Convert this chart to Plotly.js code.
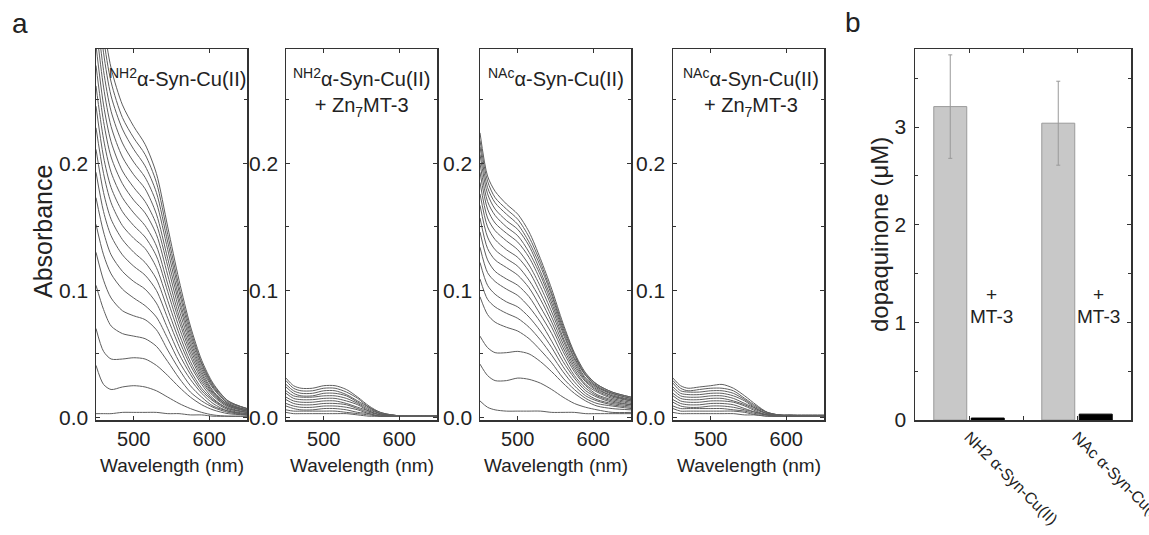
<!DOCTYPE html>
<html>
<head>
<meta charset="utf-8">
<script src="https://cdn.plot.ly/plotly-3.0.1.min.js"></script>
<style>html,body{margin:0;padding:0;background:#fff;}#chart{width:1149px;height:535px;}</style>
</head>
<body>
<div id="chart"></div>
<script>
// Wavelength grid (nm) shared by all spectra
const wavelengths = [450, 460, 470, 485, 500, 515, 530, 545, 560, 575, 590, 605, 625, 650];

// Panel a1: NH2 alpha-Syn-Cu(II) spectra (absorbance)
const nh2Spectra = [
  [0.003,0.003,0.003,0.004,0.004,0.004,0.004,0.003,0.003,0.002,0.002,0.001,0.001,0.001],
  [0.041,0.026,0.022,0.024,0.025,0.024,0.021,0.016,0.011,0.007,0.004,0.002,0.001,0.001],
  [0.070,0.052,0.046,0.046,0.047,0.046,0.041,0.033,0.024,0.016,0.010,0.006,0.003,0.002],
  [0.104,0.085,0.072,0.066,0.064,0.062,0.056,0.044,0.031,0.020,0.013,0.008,0.004,0.002],
  [0.130,0.108,0.094,0.084,0.080,0.077,0.069,0.053,0.038,0.025,0.016,0.009,0.005,0.002],
  [0.152,0.128,0.113,0.101,0.094,0.088,0.079,0.062,0.044,0.030,0.019,0.011,0.005,0.003],
  [0.173,0.146,0.128,0.115,0.107,0.101,0.090,0.070,0.050,0.034,0.021,0.013,0.006,0.003],
  [0.193,0.162,0.143,0.128,0.119,0.112,0.100,0.078,0.056,0.037,0.023,0.014,0.007,0.004],
  [0.211,0.177,0.156,0.140,0.130,0.122,0.109,0.085,0.061,0.041,0.026,0.015,0.007,0.004],
  [0.228,0.192,0.169,0.151,0.141,0.133,0.118,0.092,0.066,0.044,0.028,0.017,0.008,0.004],
  [0.245,0.205,0.181,0.162,0.151,0.142,0.127,0.099,0.071,0.048,0.030,0.018,0.009,0.005],
  [0.261,0.219,0.193,0.173,0.161,0.151,0.135,0.105,0.076,0.051,0.032,0.019,0.009,0.005],
  [0.277,0.233,0.205,0.184,0.171,0.161,0.144,0.112,0.080,0.054,0.034,0.020,0.010,0.005],
  [0.293,0.246,0.217,0.194,0.181,0.170,0.152,0.119,0.085,0.057,0.036,0.021,0.010,0.006],
  [0.309,0.260,0.229,0.205,0.191,0.180,0.160,0.125,0.090,0.060,0.038,0.023,0.011,0.006],
  [0.326,0.273,0.241,0.216,0.201,0.189,0.169,0.132,0.094,0.063,0.040,0.024,0.011,0.006],
  [0.342,0.287,0.253,0.227,0.211,0.198,0.177,0.138,0.099,0.066,0.042,0.025,0.012,0.007],
  [0.356,0.299,0.264,0.236,0.220,0.207,0.185,0.144,0.103,0.069,0.043,0.026,0.013,0.007],
  [0.371,0.311,0.275,0.246,0.229,0.215,0.192,0.150,0.108,0.072,0.045,0.027,0.013,0.007]
];

// Panel a2: NH2 alpha-Syn-Cu(II) + Zn7MT-3
const nh2MtSpectra = [
  [0.004,0.003,0.003,0.003,0.003,0.003,0.003,0.002,0.001,0.001,0.001,0.001,0.001,0.001],
  [0.006,0.005,0.005,0.005,0.005,0.005,0.004,0.003,0.002,0.001,0.001,0.001,0.001,0.001],
  [0.009,0.007,0.006,0.006,0.007,0.007,0.006,0.004,0.003,0.001,0.001,0.001,0.001,0.001],
  [0.011,0.009,0.008,0.008,0.009,0.009,0.008,0.006,0.003,0.001,0.001,0.001,0.001,0.001],
  [0.014,0.011,0.010,0.010,0.011,0.011,0.010,0.007,0.004,0.002,0.001,0.001,0.001,0.001],
  [0.016,0.013,0.012,0.012,0.013,0.013,0.011,0.008,0.005,0.002,0.001,0.001,0.001,0.001],
  [0.019,0.015,0.014,0.014,0.015,0.015,0.013,0.010,0.005,0.002,0.001,0.001,0.001,0.001],
  [0.021,0.017,0.016,0.016,0.017,0.017,0.015,0.011,0.006,0.003,0.001,0.001,0.001,0.001],
  [0.024,0.019,0.017,0.017,0.019,0.019,0.017,0.012,0.007,0.003,0.002,0.001,0.001,0.001],
  [0.026,0.021,0.019,0.019,0.021,0.021,0.018,0.013,0.008,0.003,0.002,0.001,0.001,0.001],
  [0.029,0.023,0.021,0.021,0.023,0.023,0.020,0.015,0.008,0.004,0.002,0.001,0.001,0.001],
  [0.031,0.025,0.023,0.023,0.025,0.025,0.022,0.016,0.009,0.004,0.002,0.001,0.001,0.001]
];

// Panel a3: NAc alpha-Syn-Cu(II)
const nacSpectra = [
  [0.013,0.008,0.006,0.005,0.005,0.005,0.005,0.004,0.004,0.004,0.003,0.003,0.003,0.003],
  [0.042,0.033,0.029,0.029,0.031,0.030,0.027,0.022,0.016,0.011,0.008,0.006,0.004,0.004],
  [0.064,0.055,0.051,0.051,0.052,0.050,0.044,0.036,0.027,0.019,0.013,0.009,0.007,0.006],
  [0.095,0.081,0.075,0.071,0.068,0.062,0.053,0.043,0.031,0.022,0.015,0.011,0.009,0.007],
  [0.109,0.093,0.087,0.082,0.078,0.071,0.061,0.049,0.036,0.025,0.017,0.013,0.010,0.008],
  [0.122,0.104,0.097,0.091,0.087,0.079,0.068,0.055,0.040,0.028,0.019,0.014,0.011,0.009],
  [0.134,0.114,0.107,0.101,0.096,0.087,0.075,0.060,0.044,0.031,0.021,0.016,0.012,0.010],
  [0.146,0.124,0.115,0.109,0.104,0.095,0.081,0.066,0.048,0.033,0.023,0.017,0.013,0.010],
  [0.157,0.133,0.124,0.118,0.112,0.102,0.087,0.071,0.052,0.036,0.025,0.018,0.014,0.011],
  [0.167,0.142,0.132,0.125,0.119,0.108,0.093,0.075,0.055,0.038,0.026,0.020,0.015,0.012],
  [0.176,0.150,0.140,0.132,0.126,0.115,0.098,0.079,0.058,0.040,0.028,0.021,0.016,0.013],
  [0.185,0.157,0.147,0.139,0.132,0.120,0.103,0.083,0.061,0.042,0.029,0.022,0.017,0.013],
  [0.193,0.164,0.153,0.145,0.138,0.126,0.108,0.087,0.063,0.044,0.030,0.023,0.017,0.014],
  [0.200,0.170,0.159,0.150,0.143,0.130,0.112,0.090,0.066,0.046,0.031,0.024,0.018,0.014],
  [0.207,0.176,0.164,0.155,0.148,0.135,0.115,0.093,0.068,0.047,0.033,0.024,0.019,0.015],
  [0.213,0.181,0.169,0.160,0.152,0.138,0.119,0.096,0.070,0.049,0.033,0.025,0.019,0.015],
  [0.218,0.186,0.173,0.164,0.156,0.142,0.122,0.098,0.072,0.050,0.034,0.026,0.020,0.016],
  [0.224,0.190,0.178,0.168,0.160,0.146,0.125,0.101,0.074,0.051,0.035,0.026,0.020,0.016]
];

// Panel a4: NAc alpha-Syn-Cu(II) + Zn7MT-3
const nacMtSpectra = [
  [0.004,0.003,0.003,0.003,0.003,0.003,0.003,0.002,0.002,0.001,0.001,0.001,0.001,0.001],
  [0.007,0.005,0.005,0.005,0.005,0.005,0.005,0.004,0.002,0.001,0.001,0.001,0.001,0.001],
  [0.009,0.007,0.007,0.007,0.007,0.007,0.006,0.005,0.003,0.002,0.001,0.001,0.001,0.001],
  [0.012,0.009,0.008,0.008,0.009,0.009,0.008,0.006,0.004,0.002,0.001,0.001,0.001,0.001],
  [0.014,0.011,0.010,0.010,0.011,0.011,0.010,0.007,0.004,0.002,0.001,0.001,0.001,0.001],
  [0.017,0.013,0.012,0.012,0.013,0.013,0.012,0.009,0.005,0.002,0.001,0.001,0.001,0.001],
  [0.019,0.015,0.014,0.014,0.015,0.015,0.013,0.010,0.006,0.003,0.002,0.001,0.001,0.001],
  [0.022,0.017,0.016,0.016,0.017,0.017,0.015,0.011,0.007,0.003,0.002,0.001,0.001,0.001],
  [0.024,0.019,0.018,0.018,0.019,0.019,0.017,0.013,0.007,0.003,0.002,0.001,0.001,0.001],
  [0.027,0.021,0.020,0.020,0.021,0.021,0.019,0.014,0.008,0.004,0.002,0.001,0.001,0.001],
  [0.029,0.023,0.021,0.022,0.023,0.023,0.021,0.015,0.009,0.004,0.002,0.002,0.001,0.001],
  [0.031,0.025,0.023,0.024,0.025,0.026,0.023,0.017,0.010,0.004,0.002,0.002,0.002,0.002]
];

// Panel b: dopaquinone (uM)
const barCategories = ["NH2 α-Syn-Cu(II)", "NAc α-Syn-Cu(II)"];
const dopaquinone = [3.21, 3.04];
const dopaquinoneErr = [0.53, 0.43];
const dopaquinoneMT3 = [0.02, 0.06];

const FONT = '"Liberation Sans", Arial, Helvetica, sans-serif';
const W = 1149, H = 535;
const px = x => x / W;
const py = y => 1 - y / H;
const LINE = '#333';

const traces = [];
function addSpectra(set, ax) {
  set.forEach(ys => {
    traces.push({
      x: wavelengths, y: ys, type: 'scatter', mode: 'lines',
      xaxis: 'x' + ax, yaxis: 'y' + ax,
      line: {color: '#5e5e5e', width: 1, shape: 'spline', smoothing: 0.8},
      hoverinfo: 'skip', showlegend: false, cliponaxis: true
    });
  });
}
addSpectra(nh2Spectra, '');
addSpectra(nh2MtSpectra, '2');
addSpectra(nacSpectra, '3');
addSpectra(nacMtSpectra, '4');

const idx = barCategories.map((c, i) => i);
traces.push({
  x: idx, y: dopaquinone, type: 'bar', xaxis: 'x5', yaxis: 'y5',
  marker: {color: '#c8c8c8', line: {color: '#9a9a9a', width: 1}},
  error_y: {type: 'data', array: dopaquinoneErr, color: '#999', thickness: 1, width: 2},
  showlegend: false, hoverinfo: 'skip'
});
traces.push({
  x: idx, y: dopaquinoneMT3, type: 'bar', xaxis: 'x5', yaxis: 'y5',
  marker: {color: '#000', line: {color: '#000', width: 1}},
  showlegend: false, hoverinfo: 'skip'
});

const yDom = [py(420), py(49)];
function xAx(l, r, anchor) {
  return {
    domain: [px(l), px(r)], anchor: anchor, range: [450, 650],
    tickvals: [500, 600], ticks: 'inside', ticklen: 4, tickwidth: 1, tickcolor: LINE,
    showline: true, linecolor: LINE, linewidth: 1.5, mirror: 'ticks',
    showgrid: false, zeroline: false, ticklabelstandoff: 0,
    tickfont: {family: FONT, size: 20, color: '#222'}
  };
}
function yAx(anchor) {
  return {
    domain: yDom, anchor: anchor, range: [-0.002, 0.29],
    tickmode: 'linear', tick0: 0, dtick: 0.1, tickformat: '.1f',
    ticks: 'inside', ticklen: 4, tickwidth: 1, tickcolor: LINE,
    minor: {dtick: 0.05, tick0: 0, ticks: 'inside', ticklen: 3, tickcolor: LINE},
    showline: true, linecolor: LINE, linewidth: 1.5, mirror: 'ticks',
    showgrid: false, zeroline: false, ticklabelstandoff: 2,
    tickfont: {family: FONT, size: 21, color: '#222'}
  };
}

const layout = {
  width: W, height: H,
  margin: {l: 0, r: 0, t: 0, b: 0},
  paper_bgcolor: '#fff', plot_bgcolor: '#fff',
  showlegend: false,
  barmode: 'group', bargap: 0.306, bargroupgap: 0.12,
  xaxis: xAx(96, 247, 'y'), yaxis: yAx('x'),
  xaxis2: xAx(286, 437, 'y2'), yaxis2: yAx('x2'),
  xaxis3: xAx(480, 631, 'y3'), yaxis3: yAx('x3'),
  xaxis4: xAx(673, 824, 'y4'), yaxis4: yAx('x4'),
  xaxis5: {
    domain: [px(915), px(1131)], anchor: 'y5', range: [-0.5, 1.5],
    tickvals: idx, ticktext: barCategories, tickangle: 45,
    ticklabeloverflow: 'allow',
    ticks: 'inside', ticklen: 4, tickwidth: 1, tickcolor: LINE,
    minor: {tickvals: [0.5], ticks: 'inside', ticklen: 4, tickcolor: LINE},
    showline: true, linecolor: LINE, linewidth: 1.5, mirror: 'ticks',
    showgrid: false, zeroline: false, ticklabelstandoff: 0,
    tickfont: {family: FONT, size: 16, color: '#222'}
  },
  yaxis5: {
    domain: yDom, anchor: 'x5', range: [0, 3.8],
    tickmode: 'linear', tick0: 0, dtick: 1,
    ticks: 'inside', ticklen: 4, tickwidth: 1, tickcolor: LINE,
    minor: {dtick: 0.5, tick0: 0, ticks: 'inside', ticklen: 3, tickcolor: LINE},
    showline: true, linecolor: LINE, linewidth: 1.5, mirror: 'ticks',
    showgrid: false, zeroline: false, ticklabelstandoff: 3,
    tickfont: {family: FONT, size: 21, color: '#222'}
  },
  annotations: []
};

function ann(text, x, y, size, opts) {
  layout.annotations.push(Object.assign({
    text: text, xref: 'paper', yref: 'paper', x: px(x), y: py(y),
    xanchor: 'center', yanchor: 'middle', showarrow: false,
    font: {family: FONT, size: size, color: '#222'}
  }, opts || {}));
}
ann('a', 20, 24, 28);
ann('b', 853, 22, 28);
ann('Absorbance', 43, 232, 25, {textangle: -90});
[171.5, 361.5, 555.5, 748.5].forEach(cx => ann('Wavelength (nm)', cx, 465, 19));
ann('<sup>NH2</sup>α-Syn-Cu(II)', 177, 78, 20);
ann('<sup>NH2</sup>α-Syn-Cu(II)<br>+ Zn<sub>7</sub>MT-3', 361, 93, 20);
ann('<sup>NAc</sup>α-Syn-Cu(II)', 556, 78, 20);
ann('<sup>NAc</sup>α-Syn-Cu(II)<br>+ Zn<sub>7</sub>MT-3', 751, 93, 20);
ann('dopaquinone (μM)', 880, 235, 24, {textangle: -90});
ann('+', 991, 294, 19);
ann('MT-3', 991, 316, 19);
ann('+', 1098, 294, 19);
ann('MT-3', 1098, 316, 19);

Plotly.newPlot('chart', traces, layout, {staticPlot: true, displayModeBar: false});
</script>
</body>
</html>
